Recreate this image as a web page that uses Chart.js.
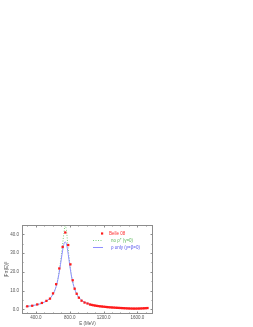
<!DOCTYPE html>
<html>
<head>
<meta charset="utf-8">
<script src="https://cdn.jsdelivr.net/npm/chart.js@4"></script>
<style>
    html, body { margin: 0; padding: 0; background: #fff; }
    #wrap { width: 253px; height: 327px; }
</style>
</head>
<body>
<div id="wrap"><canvas id="formFactorChart" width="253" height="327"></canvas></div>
<script>
// Belle 08 data points (E in MeV, |F|^2)
const belleE = [297, 356, 415, 470, 524, 566, 602, 639, 676, 716, 747, 782, 808, 835, 858, 882, 908, 940, 975, 1010,
    1040, 1060, 1080, 1100, 1120, 1140, 1160, 1180, 1200, 1220, 1240, 1260, 1280, 1300, 1320, 1340, 1360, 1380,
    1400, 1420, 1440, 1460, 1480, 1500, 1520, 1540, 1560, 1580, 1600, 1620, 1640, 1660, 1680, 1700, 1720];
const belleF = [1.6, 1.9, 2.6, 3.4, 4.5, 5.7, 8.5, 13.4, 21.8, 33.3, 41.0, 34.3, 24.0, 15.5, 11.0, 8.3, 6.2, 4.6, 3.6, 3.1,
    2.55, 2.35, 2.15, 2.0, 1.85, 1.72, 1.6, 1.5, 1.4, 1.3, 1.2, 1.12, 1.05, 0.98, 0.92, 0.86, 0.8, 0.75,
    0.7, 0.65, 0.6, 0.55, 0.5, 0.46, 0.42, 0.4, 0.38, 0.38, 0.4, 0.42, 0.46, 0.5, 0.55, 0.6, 0.68];

// curve: rho only (gamma = beta = 0)
const rhoE = [280, 320, 360, 400, 440, 480, 520, 560, 590, 620, 640, 660, 680, 700, 715, 730, 745, 760, 775, 790,
    805, 820, 840, 860, 880, 900, 930, 960, 1000, 1040, 1080];
const rhoF = [1.4, 1.7, 2.0, 2.35, 2.8, 3.4, 4.3, 5.6, 7.2, 9.8, 12.3, 16.0, 21.0, 26.8, 31.2, 34.6, 36.0, 35.0, 31.5, 26.8,
    22.0, 17.8, 13.6, 10.6, 8.4, 6.8, 5.2, 4.2, 3.3, 2.7, 2.3];

// curve: no rho'' (gamma = 0)
const noRhoE = [280, 320, 360, 400, 440, 480, 520, 560, 590, 620, 640, 660, 680, 700, 715, 730, 745, 760, 775, 790,
    805, 820, 840, 860, 880, 900, 930, 960, 1000, 1040, 1080];
const noRhoF = [1.4, 1.7, 2.0, 2.35, 2.8, 3.4, 4.3, 5.6, 7.2, 9.8, 12.4, 16.3, 21.8, 28.5, 34.5, 40.5, 44.5, 42.5, 35.5, 28.5,
    22.8, 18.0, 13.7, 10.6, 8.4, 6.8, 5.2, 4.2, 3.3, 2.7, 2.3];

const xTicks = [400, 800, 1200, 1600];
const yTicks = [0, 10, 20, 30, 40];

const labels = ['Belle 08', 'no \u03C1\u2033 (\u03B3=0)', '\u03C1 only (\u03B3=\u03B2=0)'];
const colors = ['#ff1a1a', '#7fcf7f', '#8f8fff'];
const textColors = ['#ff3030', '#5fb85f', '#5555ee'];

function pairs(xs, ys) {
    return xs.map((v, i) => ({ x: v, y: ys[i] }));
}

// frame round the plot with inward ticks on all sides
const frameTicks = {
    id: 'frameTicks',
    afterDatasetsDraw(chart) {
        const { ctx, chartArea: a, scales: { x, y } } = chart;
        ctx.save();
        ctx.strokeStyle = '#8c8c8c';
        ctx.lineWidth = 1;
        ctx.strokeRect(a.left + 0.5, a.top + 0.5, a.width - 1, a.height - 1);
        ctx.beginPath();
        for (let v = 300; v <= 1700; v += 100) {
            const px = Math.round(x.getPixelForValue(v)) + 0.5;
            const len = xTicks.includes(v) ? 2.5 : 1.5;
            ctx.moveTo(px, a.bottom); ctx.lineTo(px, a.bottom - len);
            ctx.moveTo(px, a.top); ctx.lineTo(px, a.top + len);
        }
        for (let v = 0; v <= 45; v += 5) {
            const py = Math.round(y.getPixelForValue(v)) + 0.5;
            const len = yTicks.includes(v) ? 2.5 : 1.5;
            ctx.moveTo(a.left, py); ctx.lineTo(a.left + len, py);
            ctx.moveTo(a.right, py); ctx.lineTo(a.right - len, py);
        }
        ctx.stroke();
        ctx.restore();
    }
};

// legend inside the plot, top right
const innerLegend = {
    id: 'innerLegend',
    afterDraw(chart) {
        const { ctx, chartArea: a } = chart;
        ctx.save();
        ctx.font = '4.5px "Liberation Sans", sans-serif';
        ctx.textBaseline = 'middle';
        labels.forEach((t, i) => {
            const yy = a.top + 8.5 + i * 7;
            if (i === 0) {
                ctx.fillStyle = colors[0];
                ctx.fillRect(a.left + 79, yy - 1.1, 2.2, 2.2);
            } else {
                ctx.strokeStyle = colors[i];
                ctx.lineWidth = 1;
                ctx.setLineDash(i === 1 ? [1, 1.5] : []);
                ctx.beginPath();
                ctx.moveTo(a.left + 71, yy);
                ctx.lineTo(a.left + 81, yy);
                ctx.stroke();
            }
            ctx.fillStyle = textColors[i];
            ctx.fillText(t, a.left + (i === 0 ? 87 : 89), yy);
        });
        ctx.restore();
    }
};

const tickFont = { family: '"Liberation Sans", sans-serif', size: 4.5 };

const formFactorChart = new Chart(document.getElementById('formFactorChart'), {
    type: 'line',
    data: {
        datasets: [
            {
                label: labels[0],
                data: pairs(belleE, belleF),
                showLine: false,
                pointStyle: 'rect',
                pointRadius: 1.6,
                backgroundColor: colors[0],
                borderColor: colors[0],
                pointBorderWidth: 0,
                order: 0
            },
            {
                label: labels[1],
                data: pairs(noRhoE, noRhoF),
                borderColor: colors[1],
                borderWidth: 1,
                borderDash: [1, 1.5],
                pointRadius: 0,
                cubicInterpolationMode: 'monotone',
                order: 2
            },
            {
                label: labels[2],
                data: pairs(rhoE, rhoF),
                borderColor: colors[2],
                borderWidth: 1,
                pointRadius: 0,
                cubicInterpolationMode: 'monotone',
                order: 1
            }
        ]
    },
    options: {
        responsive: false,
        animation: false,
        layout: { padding: { top: 225, right: 100, bottom: 0, left: 0 } },
        plugins: {
            legend: { display: false },
            tooltip: { enabled: false }
        },
        scales: {
            x: {
                type: 'linear',
                min: 235,
                max: 1785,
                grid: { display: false, drawTicks: false },
                border: { display: false },
                afterBuildTicks: s => { s.ticks = xTicks.map(v => ({ value: v })); },
                afterFit: s => { s.height = 13; },
                ticks: {
                    font: tickFont,
                    color: '#555',
                    padding: 1.5,
                    maxRotation: 0,
                    callback: v => v.toFixed(1)
                },
                title: {
                    display: true,
                    text: 'E (MeV)',
                    font: tickFont,
                    color: '#555',
                    padding: { top: 0, bottom: 1 }
                }
            },
            y: {
                min: -2.5,
                max: 45,
                grid: { display: false, drawTicks: false },
                border: { display: false },
                afterBuildTicks: s => { s.ticks = yTicks.map(v => ({ value: v })); },
                afterFit: s => { s.width = 22; },
                ticks: {
                    font: tickFont,
                    color: '#555',
                    padding: 3,
                    callback: v => v.toFixed(1)
                },
                title: {
                    display: true,
                    text: '|F\u03C0(E)|\u00B2',
                    font: tickFont,
                    color: '#555',
                    padding: { top: 4, bottom: 0 }
                }
            }
        }
    },
    plugins: [frameTicks, innerLegend]
});
</script>
</body>
</html>
